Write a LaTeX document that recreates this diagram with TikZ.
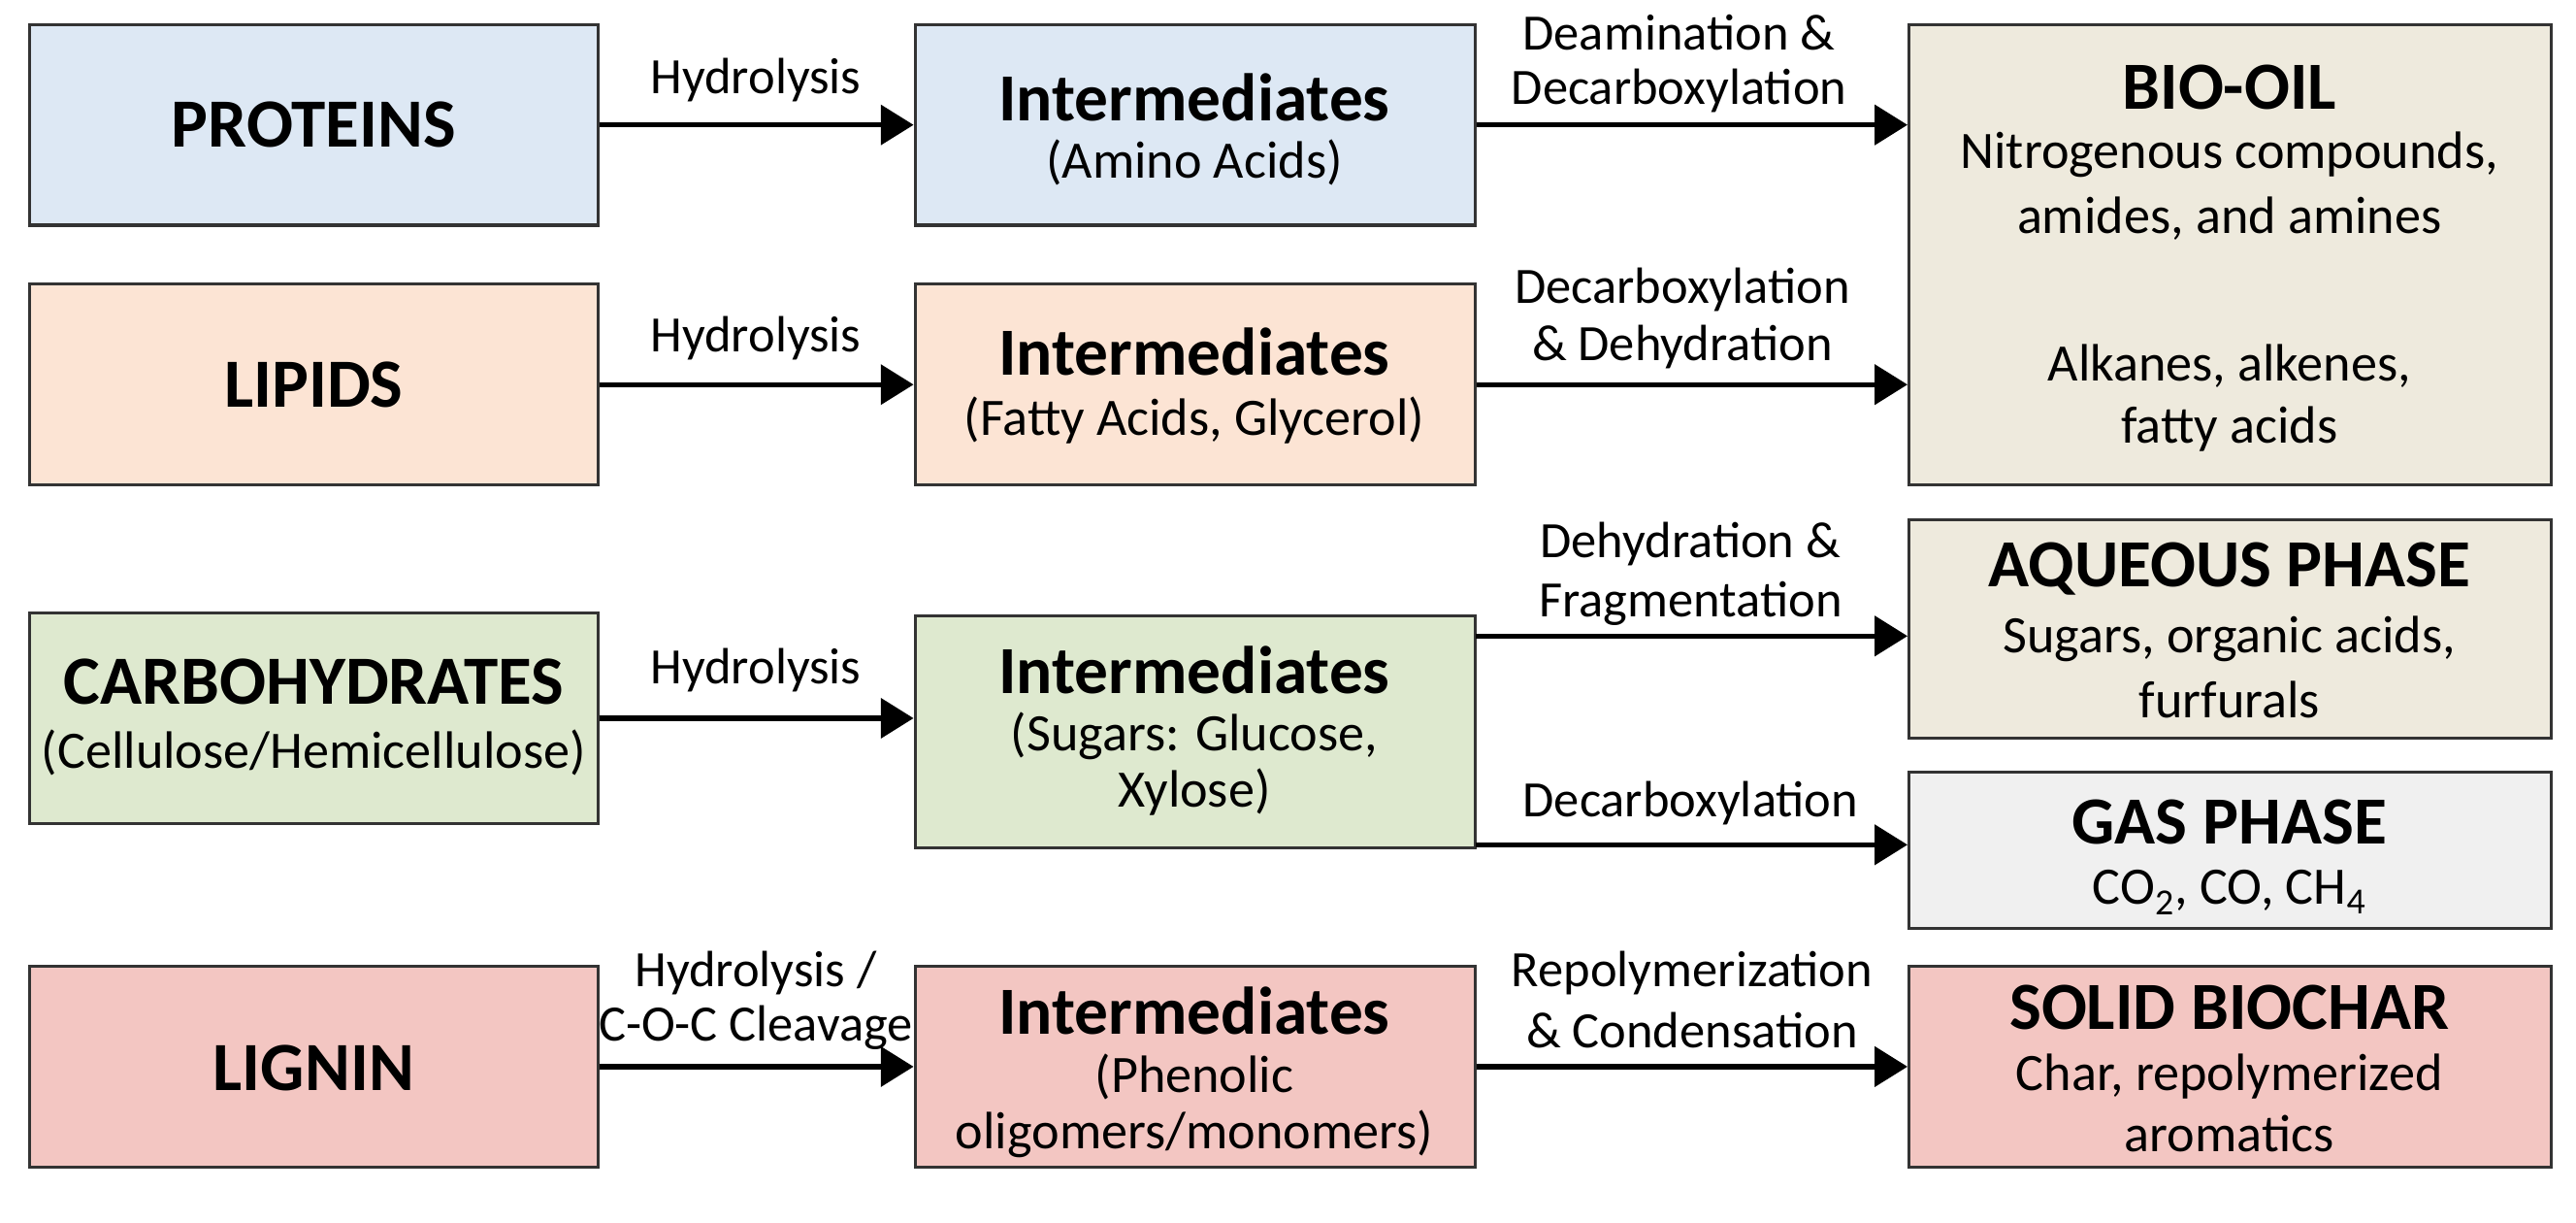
\documentclass[tikz,border=0pt]{standalone}
\usepackage{fontspec}
\setmainfont{Carlito}
\usetikzlibrary{arrows.meta}
\definecolor{cblue}{HTML}{DDE8F4}
\definecolor{cpeach}{HTML}{FCE4D4}
\definecolor{cgreen}{HTML}{DEE9CF}
\definecolor{cbeige}{HTML}{EEEADD}
\definecolor{cgray}{HTML}{F0F0F0}
\definecolor{cred}{HTML}{F3C6C2}
\begin{document}
\begin{tikzpicture}[x=1pt,y=-1pt,
  box/.style={draw=black!80,line width=1.8pt,inner sep=0pt,align=center},
  arr/.style={line width=3.2pt,-{Triangle[length=20pt,width=24pt]}},
  lab/.style={font=\fontsize{31}{35}\selectfont,inner sep=0pt},
  big/.style={font=\fontsize{42}{46}\selectfont\bfseries,inner sep=0pt},
  mid/.style={font=\fontsize{41}{46}\selectfont\bfseries,inner sep=0pt},
  sub/.style={font=\fontsize{32}{38}\selectfont,inner sep=0pt}]
\useasboundingbox (0,0) rectangle (1568,744);
\newcommand{\bx}[6]{\node[box,fill=#6,minimum width=#4-#2,minimum height=#5-#3] (#1) at ({(#2+#4)/2},{(#3+#5)/2}) {};}
\bx{pro}{18}{15}{364}{137}{cblue}
\bx{i1}{557}{15}{898}{137}{cblue}
\bx{bio}{1162}{15}{1553}{295}{cbeige}
\bx{lip}{18}{173}{364}{295}{cpeach}
\bx{i2}{557}{173}{898}{295}{cpeach}
\bx{car}{18}{373}{364}{501}{cgreen}
\bx{i3}{557}{375}{898}{516}{cgreen}
\bx{aq}{1162}{316}{1553}{449}{cbeige}
\bx{gas}{1162}{470}{1553}{565}{cgray}
\bx{lig}{18}{588}{364}{710}{cred}
\bx{i4}{557}{588}{898}{710}{cred}
\bx{bc}{1162}{588}{1553}{710}{cred}
% texts
\node[big] at (191,76) {PROTEINS};
\node[big] at (191,234) {LIPIDS};
\node[big] at (191,650) {LIGNIN};
\node[big] at (191,415) {CARBOHYDRATES};
\node[sub] at (191,458) {(Cellulose/Hemicellulose)};
\node[mid] at (727,59) {Intermediates};
\node[sub] at (727,99) {(Amino Acids)};
\node[mid] at (727,214) {Intermediates};
\node[sub] at (727,256) {(Fatty Acids, Glycerol)};
\node[mid] at (727,408) {Intermediates};
\node[sub] at (727,448) {(Sugars: Glucose,};
\node[sub] at (727,482) {Xylose)};
\node[mid] at (727,615) {Intermediates};
\node[sub] at (727,655) {(Phenolic};
\node[sub] at (727,690) {oligomers/monomers)};
\node[mid] at (1357,53) {BIO-OIL};
\node[sub] at (1357,94) {Nitrogenous compounds,};
\node[sub] at (1357,133) {amides, and amines};
\node[sub] at (1357,223) {Alkanes, alkenes,};
\node[sub] at (1357,261) {fatty acids};
\node[mid] at (1357,346) {AQUEOUS PHASE};
\node[sub] at (1357,389) {Sugars, organic acids,};
\node[sub] at (1357,426) {furfurals};
\node[mid] at (1357,500) {GAS PHASE};
\node[sub] at (1357,543) {CO\textsubscript{2}, CO, CH\textsubscript{4}};
\node[mid] at (1357,613) {SOLID BIOCHAR};
\node[sub] at (1357,655) {Char, repolymerized};
\node[sub] at (1357,690) {aromatics};
% arrows
\draw[arr] (pro.east) -- (i1.west);
\node[lab] at (460,49) {Hydrolysis};
\draw[arr] (lip.east) -- (i2.west);
\node[lab] at (460,206) {Hydrolysis};
\draw[arr] (car.east) -- (car.east-|i3.west);
\node[lab] at (460,408) {Hydrolysis};
\draw[arr] (lig.east) -- (i4.west);
\node[lab] at (460,592) {Hydrolysis /};
\node[lab] at (460,625) {C-O-C Cleavage};
\coordinate (b1) at (i1.east-|bio.west);
\coordinate (b2) at (i2.east-|bio.west);
\draw[arr] (i1.east) -- (b1);
\node[lab] at (1022,20) {Deamination \&};
\node[lab] at (1022,55) {Decarboxylation};
\draw[arr] (i2.east) -- (b2);
\node[lab] at (1024,176) {Decarboxylation};
\node[lab] at (1024,211) {\& Dehydration};
\coordinate (s1) at (898,387);
\draw[arr] (s1) -- (s1-|aq.west);
\node[lab] at (1029,331) {Dehydration \&};
\node[lab] at (1029,367) {Fragmentation};
\coordinate (s2) at (898,514);
\draw[arr] (s2) -- (s2-|gas.west);
\node[lab] at (1029,489) {Decarboxylation};
\draw[arr] (i4.east) -- (bc.west);
\node[lab] at (1030,592) {Repolymerization};
\node[lab] at (1030,627) {\& Condensation};
\end{tikzpicture}
\end{document}
